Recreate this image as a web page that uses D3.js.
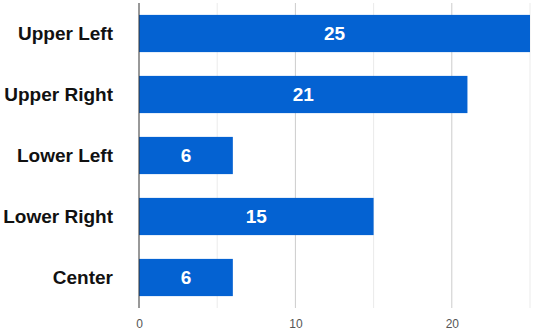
<!DOCTYPE html>
<html>
<head>
<meta charset="utf-8">
<script src="https://cdn.jsdelivr.net/npm/d3@7"></script>
<style>
  body { margin: 0; background: #fff; }
  svg { display: block; font-family: "Liberation Sans", Arial, sans-serif; }
</style>
</head>
<body>
<div id="chart"></div>
<script>
var categories = ["Upper Left", "Upper Right", "Lower Left", "Lower Right", "Center"];
var values = [25, 21, 6, 15, 6];
var majorTicks = [0, 10, 20];
var minorTicks = [5, 15, 25];

function chart() {
  var w = 533;
  var h = 330;

  var svg = d3.select("#chart")
              .append("svg")
              .attr("width", w)
              .attr("height", h);

  var x = d3.scaleLinear()
            .domain([0, 25])
            .range([139, 530]);

  var y = d3.scaleBand()
            .domain(categories)
            .range([3, 308])
            .paddingInner(0.39)
            .paddingOuter(0.195);

  // minor gridlines
  svg.selectAll("line.minor")
     .data(minorTicks)
     .enter()
     .append("line")
     .attr("class", "minor")
     .attr("x1", function(d) { return x(d); })
     .attr("x2", function(d) { return x(d); })
     .attr("y1", 3)
     .attr("y2", 308)
     .attr("stroke", "#ebebeb")
     .attr("stroke-width", 1);

  // major gridlines
  svg.selectAll("line.major")
     .data(majorTicks.slice(1))
     .enter()
     .append("line")
     .attr("class", "major")
     .attr("x1", function(d) { return x(d); })
     .attr("x2", function(d) { return x(d); })
     .attr("y1", 3)
     .attr("y2", 308)
     .attr("stroke", "#cccccc")
     .attr("stroke-width", 1);

  // bars
  svg.selectAll("rect.bar")
     .data(values)
     .enter()
     .append("rect")
     .attr("class", "bar")
     .attr("x", x(0))
     .attr("y", function(d, i) { return y(categories[i]); })
     .attr("width", function(d) { return x(d) - x(0); })
     .attr("height", y.bandwidth())
     .attr("fill", "#0462d2");

  // value labels
  svg.selectAll("text.val")
     .data(values)
     .enter()
     .append("text")
     .attr("class", "val")
     .attr("x", function(d) { return (x(0) + x(d)) / 2; })
     .attr("y", function(d, i) { return y(categories[i]) + y.bandwidth() / 2; })
     .attr("dy", "0.36em")
     .attr("text-anchor", "middle")
     .attr("fill", "#fff")
     .style("font-weight", "bold")
     .style("font-size", "19px")
     .text(function(d) { return d; });

  // axis line
  svg.append("line")
     .attr("x1", x(0))
     .attr("x2", x(0))
     .attr("y1", 3)
     .attr("y2", 308)
     .attr("stroke", "#333")
     .attr("stroke-width", 1);

  // category labels
  var yAxis = d3.axisLeft(y).tickSize(0).tickPadding(0);
  var gy = svg.append("g")
              .attr("transform", "translate(113,0)")
              .call(yAxis);
  gy.select(".domain").remove();
  gy.selectAll("text")
    .attr("fill", "#111")
    .style("font-size", "19px")
    .style("font-weight", "bold")
    .style("font-family", "'Liberation Sans', Arial, sans-serif");

  // x tick labels
  var xAxis = d3.axisBottom(x).tickValues(majorTicks).tickSize(0).tickPadding(0);
  var gx = svg.append("g")
              .attr("transform", "translate(0,319)")
              .call(xAxis);
  gx.select(".domain").remove();
  gx.selectAll("text")
    .attr("fill", "#555")
    .style("font-size", "12px")
    .style("font-family", "'Liberation Sans', Arial, sans-serif");
}

window.onload = function() {
  chart();
};
</script>
</body>
</html>
